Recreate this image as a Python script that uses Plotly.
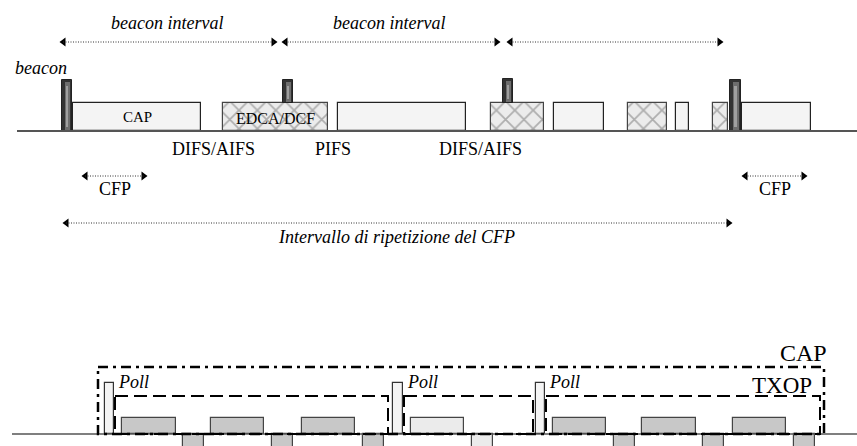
import plotly.graph_objects as go

# ---------------- data (diagram positions along the time axis) ----------------
# top timeline frames
top_start = [73, 223, 338, 491, 554, 628, 676, 713, 742]
top_end = [201, 328, 466, 544, 604, 667, 689, 728, 811]
top_kind = ["plain", "hatch", "plain", "hatch", "plain", "hatch", "plain", "hatch", "plain"]
top_label = ["CAP", "EDCA/DCF", "", "", "", "", "", "", ""]
top_frame_top = 103
top_base = 131

# beacons
beacon_start = [62, 283, 503, 730]
beacon_end = [72, 293, 513, 741]
beacon_bottom = [131, 103, 103, 131]
beacon_top = [80, 80, 79, 80]

# interval arrows (start, end, y)
beacon_int_start = [60, 282, 507]
beacon_int_end = [277, 500, 723]
beacon_int_label = ["beacon interval", "beacon interval", ""]
cfp_start = [82, 742]
cfp_end = [147, 807]
rep_start = [63]
rep_end = [732]

# IFS labels
ifs_labels = ["DIFS/AIFS", "PIFS", "DIFS/AIFS"]
ifs_x = [213, 333, 480]

# bottom timeline
poll_start = [105, 393, 536]
poll_end = [114, 403, 545]
up_start = [122, 211, 302, 411, 553, 642, 733]
up_end = [176, 264, 355, 464, 606, 696, 786]
up_light = [False, False, False, True, False, False, False]
down_start = [183, 272, 363, 472, 614, 703, 794]
down_end = [204, 293, 384, 493, 635, 724, 815]
down_light = [False, False, False, True, False, False, False]
txop_start = [115, 404, 546]
txop_end = [388, 533, 820]
cap_start = 98
cap_end = 824
bottom_base = 434

SERIF = "Liberation Serif"

fig = go.Figure()


def add_bars(starts, ends, tops, bottoms, color, line_color="#333", line_w=1.0, pattern=None):
    xs = [(s + e) / 2 for s, e in zip(starts, ends)]
    ws = [e - s for s, e in zip(starts, ends)]
    hs = [b - t for t, b in zip(tops, bottoms)]
    marker = dict(color=color, line=dict(color=line_color, width=line_w))
    if pattern:
        marker["pattern"] = pattern
    fig.add_trace(go.Bar(x=xs, y=hs, base=tops, width=ws, marker=marker,
                         hoverinfo="skip", showlegend=False))


# baselines
fig.add_shape(type="line", x0=17, x1=857, y0=top_base, y1=top_base,
              line=dict(color="#555", width=2))
fig.add_shape(type="line", x0=12, x1=857, y0=bottom_base, y1=bottom_base,
              line=dict(color="#555", width=1.5))

# top frames
plain_s = [s for s, k in zip(top_start, top_kind) if k == "plain"]
plain_e = [e for e, k in zip(top_end, top_kind) if k == "plain"]
hatch_s = [s for s, k in zip(top_start, top_kind) if k == "hatch"]
hatch_e = [e for e, k in zip(top_end, top_kind) if k == "hatch"]
add_bars(plain_s, plain_e, [top_frame_top] * len(plain_s), [top_base] * len(plain_s), "#f4f4f4",
         line_color="#222", line_w=1.2)
add_bars(hatch_s, hatch_e, [top_frame_top] * len(hatch_s), [top_base] * len(hatch_s), "#e4e4e4",
         line_color="#444", line_w=1.2,
         pattern=dict(shape="x", fgcolor="#707070", bgcolor="#ececec", size=13, solidity=0.25))

# beacons (shaded cylinder look)
add_bars(beacon_start, beacon_end, beacon_top, beacon_bottom, "#333333", line_color="#222", line_w=1)
inner_s = [s + 2.5 for s in beacon_start]
inner_e = [e - 2.5 for e in beacon_end]
add_bars(inner_s, inner_e, [t + 2 for t in beacon_top], [b - 1 for b in beacon_bottom], "#6e6e6e",
         line_color="#6e6e6e", line_w=0)
core_s = [s + 4 for s in beacon_start]
core_e = [e - 4 for e in beacon_end]
add_bars(core_s, core_e, [t + 6 for t in beacon_top], [b - 4 for b in beacon_bottom], "#a0a0a0",
         line_color="#a0a0a0", line_w=0)

# bottom frames
for starts, ends, lights, top, bot in [
    (up_start, up_end, up_light, 418, bottom_base),
    (down_start, down_end, down_light, bottom_base, 452),
]:
    cols = ["#ebebeb" if l else "#c8c8c8" for l in lights]
    xs = [(s + e) / 2 for s, e in zip(starts, ends)]
    ws = [e - s for s, e in zip(starts, ends)]
    fig.add_trace(go.Bar(x=xs, y=[bot - top] * len(xs), base=[top] * len(xs), width=ws,
                         marker=dict(color=cols, line=dict(color="#444", width=1.2)),
                         hoverinfo="skip", showlegend=False))

add_bars(poll_start, poll_end, [383] * 3, [bottom_base] * 3, "#f4f4f4", line_color="#333", line_w=1.2)

# CAP and TXOP boxes
fig.add_shape(type="rect", x0=cap_start, x1=cap_end, y0=367, y1=bottom_base,
              line=dict(color="black", width=2.5, dash="10px,5px,3px,5px"))
for s, e in zip(txop_start, txop_end):
    fig.add_shape(type="rect", x0=s, x1=e, y0=396, y1=bottom_base,
                  line=dict(color="black", width=2, dash="13px,6px"))


# dotted double arrows
def darrow(x0, x1, y):
    fig.add_shape(type="line", x0=x0 + 3, x1=x1 - 3, y0=y, y1=y,
                  line=dict(color="#333", width=1, dash="1px,1.5px"))
    fig.add_trace(go.Scatter(x=[x0 + 3.5, x1 - 3.5], y=[y, y], mode="markers",
                             marker=dict(symbol=["triangle-left", "triangle-right"], size=8,
                                         color="black", line=dict(width=0)),
                             hoverinfo="skip", showlegend=False))


for s, e in zip(beacon_int_start, beacon_int_end):
    darrow(s, e, 42)
for s, e in zip(cfp_start, cfp_end):
    darrow(s, e, 176)
for s, e in zip(rep_start, rep_end):
    darrow(s, e, 223)


def txt(x, y, t, size, italic=False, xanchor="center"):
    fig.add_annotation(x=x, y=y, text=t, showarrow=False, xanchor=xanchor, yanchor="middle",
                       font=dict(family=SERIF, size=size, color="black",
                                 style="italic" if italic else "normal"))


for s, e, lab in zip(beacon_int_start, beacon_int_end, beacon_int_label):
    if lab:
        txt((s + e) / 2 - 2, 23, lab, 18, italic=True)
txt(41, 68, "beacon", 18, italic=True)
for s, e, lab in zip(top_start, top_end, top_label):
    if lab == "CAP":
        txt((s + e) / 2, 117, lab, 15)
    elif lab:
        txt((s + e) / 2, 118, lab, 16)
for x, lab in zip(ifs_x, ifs_labels):
    txt(x, 149, lab, 18)
for s, e in zip(cfp_start, cfp_end):
    txt((s + e) / 2, 189, "CFP", 18)
txt(396, 237, "Intervallo di ripetizione del CFP", 18, italic=True)
txt(829, 353, "CAP", 24, xanchor="right")
txt(814, 385, "TXOP", 23, xanchor="right")
for e in poll_end:
    txt(e + 2, 382, "Poll", 18, italic=True, xanchor="left")

fig.update_layout(
    width=857, height=446, margin=dict(l=0, r=0, t=0, b=0),
    paper_bgcolor="white", plot_bgcolor="white", barmode="overlay", bargap=0,
    xaxis=dict(range=[0, 857], visible=False, fixedrange=True),
    yaxis=dict(range=[446, 0], visible=False, fixedrange=True),
    showlegend=False,
)
fig.write_html("out.html", config={"displayModeBar": False},
               post_script="document.body.style.margin='0px';document.body.style.overflow='hidden';")
